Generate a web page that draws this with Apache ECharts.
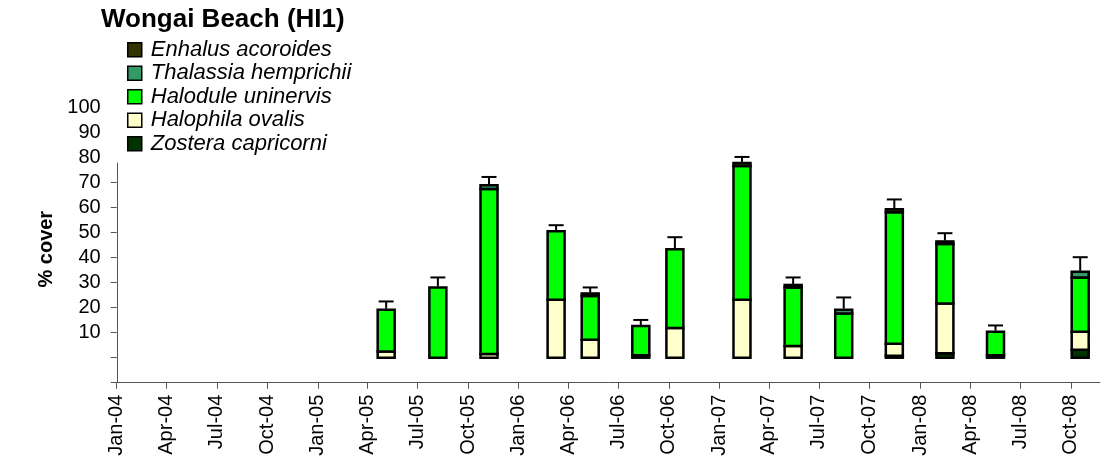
<!DOCTYPE html>
<html>
<head>
<meta charset="utf-8">
<script src="https://cdn.jsdelivr.net/npm/echarts@6/dist/echarts.min.js"></script>
<style>
  html, body { margin: 0; padding: 0; background: #fff; }
  #chart { width: 1114px; height: 467px; }
</style>
</head>
<body>
<div id="chart"></div>
<script>
// Survey dates (one stacked bar per survey)
const surveyDates = ['2005-05-05', '2005-08-07', '2005-11-08', '2006-03-10', '2006-05-11',
  '2006-08-11', '2006-10-12', '2007-02-11', '2007-05-15', '2007-08-15',
  '2007-11-15', '2008-02-15', '2008-05-17', '2008-10-18'];

// Mean % cover per species at each survey
const zostera    = [0, 0, 0, 0, 0, 1.0, 0, 0, 0, 0, 0.8, 1.8, 1.0, 3.2];
const halophila  = [2.5, 0, 1.5, 23.2, 7.2, 0, 11.9, 23.2, 4.7, 0, 4.8, 19.9, 0, 7.2];
const halodule   = [16.7, 28.1, 66.0, 27.4, 17.5, 11.7, 31.5, 53.5, 23.4, 17.7, 52.6, 23.8, 9.4, 21.7];
const thalassia  = [0, 0, 1.5, 0, 0, 0, 0, 0, 0, 1.5, 0, 0, 0, 2.3];
const enhalus    = [0, 0, 0, 0, 1.0, 0, 0, 1.2, 1.0, 0, 1.2, 1.0, 0, 0];

// Standard error of total cover (upper bar only)
const totalError = [3.3, 4.0, 3.3, 2.4, 2.4, 2.4, 4.8, 2.4, 3.0, 4.9, 3.9, 3.3, 2.5, 5.8];

// Quarterly date ticks along the x axis
const tickDates = ['2004-01-01', '2004-04-01', '2004-07-01', '2004-10-01', '2005-01-01',
  '2005-04-01', '2005-07-01', '2005-10-01', '2006-01-01', '2006-04-01', '2006-07-01',
  '2006-10-01', '2007-01-01', '2007-04-01', '2007-07-01', '2007-10-01', '2008-01-01',
  '2008-04-01', '2008-07-01', '2008-10-01'];
const tickLabels = ['Jan-04', 'Apr-04', 'Jul-04', 'Oct-04', 'Jan-05', 'Apr-05', 'Jul-05',
  'Oct-05', 'Jan-06', 'Apr-06', 'Jul-06', 'Oct-06', 'Jan-07', 'Apr-07', 'Jul-07', 'Oct-07',
  'Jan-08', 'Apr-08', 'Jul-08', 'Oct-08'];

// Y axis ticks and labels
const yTickValues  = [-10, 0, 10, 20, 30, 40, 50, 60, 70];
const yLabelValues = [10, 20, 30, 40, 50, 60, 70, 80, 90, 100];

const ts = d => Date.parse(d + 'T00:00:00Z');
const xMin = ts('2004-01-01');
const xMax = ts('2008-11-23');
const yAxisLineTop = 78;
const BAR_WIDTH = 17;

const tickValues = tickDates.map(ts);
const labelByValue = {};
tickValues.forEach((v, i) => { labelByValue[v] = tickLabels[i]; });

const FONT = '"Liberation Sans", Arial, sans-serif';

// Species drawn bottom-to-top in the stack
const species = [
  { name: 'Zostera capricorni',   values: zostera,   color: '#003300' },
  { name: 'Halophila ovalis',     values: halophila, color: '#FFFFCC' },
  { name: 'Halodule uninervis',   values: halodule,  color: '#00FF00' },
  { name: 'Thalassia hemprichii', values: thalassia, color: '#339966' },
  { name: 'Enhalus acoroides',    values: enhalus,   color: '#333300' }
];

// Running base of each stack segment
const running = surveyDates.map(() => 0);
const stackSeries = species.map(sp => {
  const data = surveyDates.map((d, i) => {
    const lo = running[i];
    const hi = lo + sp.values[i];
    running[i] = hi;
    return [ts(d), lo, hi, sp.values[i]];
  });
  return {
    name: sp.name,
    type: 'custom',
    z: 2,
    itemStyle: { color: sp.color },
    encode: { x: 0, y: [1, 2] },
    data: data,
    renderItem: function (params, api) {
      if (!(api.value(3) > 0)) return null;
      const x = api.value(0);
      const pLo = api.coord([x, api.value(1)]);
      const pHi = api.coord([x, api.value(2)]);
      return {
        type: 'rect',
        shape: { x: pLo[0] - BAR_WIDTH / 2, y: pHi[1], width: BAR_WIDTH, height: pLo[1] - pHi[1] },
        style: { fill: api.visual('color'), stroke: '#000', lineWidth: 2.5 }
      };
    }
  };
});
const totals = running.slice();

const errorSeries = {
  name: 'error',
  type: 'custom',
  z: 5,
  clip: false,
  encode: { x: 0, y: 1 },
  data: surveyDates.map((d, i) => [ts(d), totals[i], totalError[i]]),
  renderItem: function (params, api) {
    const x = api.value(0), total = api.value(1), err = api.value(2);
    const base = api.coord([x, total]);
    const top = api.coord([x, total + err]);
    const style = { stroke: '#000', lineWidth: 2, fill: null };
    return {
      type: 'group',
      children: [
        { type: 'line', shape: { x1: base[0], y1: base[1] - 1, x2: top[0], y2: top[1] }, style: style },
        { type: 'line', shape: { x1: top[0] - 7.5, y1: top[1], x2: top[0] + 7.5, y2: top[1] }, style: style }
      ]
    };
  }
};

const chart = echarts.init(document.getElementById('chart'), null, { renderer: 'canvas' });

chart.setOption({
  animation: false,
  backgroundColor: '#fff',
  title: {
    text: 'Wongai Beach (HI1)',
    left: 101,
    top: 7,
    padding: 0,
    textStyle: { fontFamily: FONT, fontSize: 26, fontWeight: 'bold', color: '#000' }
  },
  legend: {
    orient: 'vertical',
    left: 127,
    top: 38,
    padding: 0,
    itemGap: 0,
    itemWidth: 14,
    itemHeight: 14,
    icon: 'rect',
    selectedMode: false,
    data: ['Enhalus acoroides', 'Thalassia hemprichii', 'Halodule uninervis', 'Halophila ovalis', 'Zostera capricorni'],
    itemStyle: { borderColor: '#000', borderWidth: 1.5 },
    textStyle: {
      fontFamily: FONT, fontSize: 22, fontStyle: 'italic', color: '#000',
      lineHeight: 23.5, padding: [0, 0, 0, 4]
    }
  },
  grid: {
    left: 116.7, right: 14, top: 107.7, bottom: 84.3,
    containLabel: false,
    outerBoundsMode: 'none'
  },
  xAxis: {
    type: 'value',
    min: xMin,
    max: xMax,
    axisLine: { show: true, onZero: false, lineStyle: { color: '#555', width: 1 } },
    axisTick: { show: true, customValues: tickValues, length: 6, lineStyle: { color: '#555' } },
    axisLabel: {
      customValues: tickValues,
      rotate: 90,
      margin: 12,
      showMinLabel: true,
      showMaxLabel: true,
      hideOverlap: false,
      fontFamily: FONT,
      fontSize: 20,
      color: '#000',
      formatter: v => labelByValue[v] || ''
    },
    splitLine: { show: false }
  },
  yAxis: {
    type: 'value',
    min: -10,
    max: 100,
    name: '% cover',
    nameLocation: 'middle',
    nameRotate: 90,
    nameGap: 60,
    nameTextStyle: { fontFamily: FONT, fontSize: 20, fontWeight: 'bold', color: '#000', padding: [0, 8, 0, 0] },
    axisLine: { show: false },
    axisTick: { show: true, customValues: yTickValues, length: 6, lineStyle: { color: '#555' } },
    axisLabel: {
      customValues: yLabelValues,
      margin: 16,
      showMinLabel: true,
      showMaxLabel: true,
      fontFamily: FONT,
      fontSize: 20,
      color: '#000'
    },
    splitLine: { show: false }
  },
  series: stackSeries.concat([errorSeries])
});

// Vertical axis line, drawn only over the lower part of the value range
const p1 = chart.convertToPixel({ gridIndex: 0 }, [xMin, -10]);
const p2 = chart.convertToPixel({ gridIndex: 0 }, [xMin, yAxisLineTop]);
chart.setOption({
  graphic: [{
    type: 'line',
    silent: true,
    z: 10,
    shape: { x1: Math.round(p1[0]) + 0.5, y1: p1[1], x2: Math.round(p2[0]) + 0.5, y2: p2[1] },
    style: { stroke: '#555', lineWidth: 1 }
  }]
});
</script>
</body>
</html>
